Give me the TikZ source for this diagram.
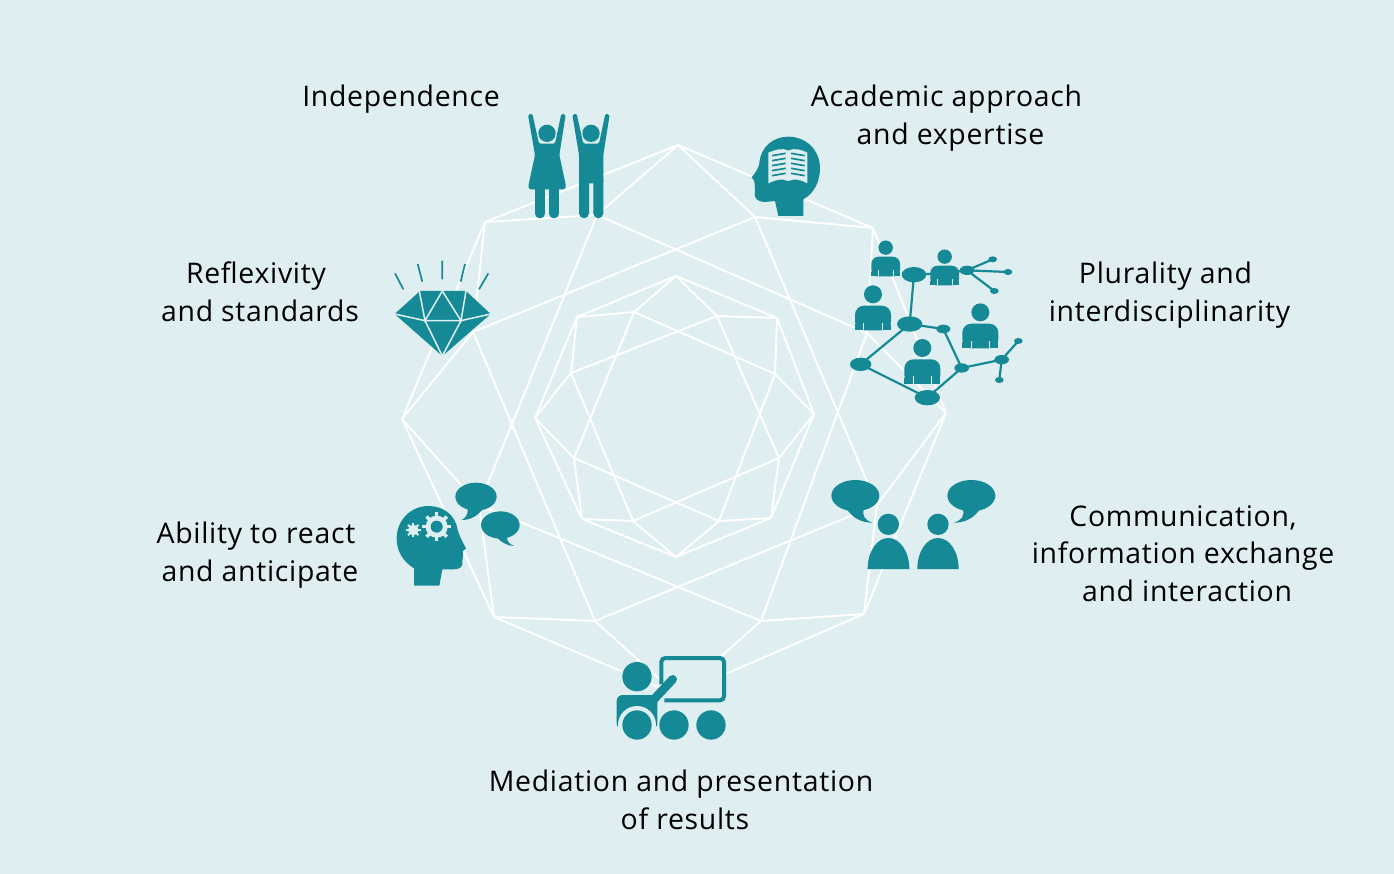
\documentclass[tikz,border=0pt]{standalone}
\usepackage{fontspec}
\setmainfont[LetterSpace=2.5]{Open Sans}
\definecolor{bgc}{HTML}{DFEEF0}
\definecolor{teal1}{HTML}{158A96}
\newcommand{\bustpic}[3]{%
  \fill[teal1] (#1,#2) circle ({27*#3});
  \fill[teal1,rounded corners={9pt*#3}] ({#1-54*#3},{#2+108*#3}) -- ({#1-54*#3},{#2+34*#3}) -- ({#1+54*#3},{#2+34*#3}) -- ({#1+54*#3},{#2+108*#3}) -- cycle;
  \fill[teal1] ({#1-54*#3},{#2+90*#3}) rectangle ({#1+54*#3},{#2+108*#3});
  \draw[bgc,line width=1pt] ({#1-28*#3},{#2+108*#3}) -- ({#1-28*#3},{#2+85*#3}) ({#1+28*#3},{#2+108*#3}) -- ({#1+28*#3},{#2+85*#3});
}
\newcommand{\trail}{\rule{8pt}{0pt}}
\tikzset{
  web/.style={white,line width=1.9pt},
  lab/.style={black,font=\fontsize{28.4}{37.7}\selectfont,align=center,inner sep=0pt},
  netedge/.style={teal1,line width=2.2pt},
}
\begin{document}
\begin{tikzpicture}[x=1pt,y=-1pt]
\useasboundingbox (0,0) rectangle (1394,874);
\fill[bgc] (0,0) rectangle (1394,874);
% outer web
\coordinate (Ot0) at (678,145);\coordinate (Ot1) at (873,228);\coordinate (Ot2) at (946,413);\coordinate (Ot3) at (864,614);
\coordinate (Ot4) at (677,695);\coordinate (Ot5) at (494,617);\coordinate (Ot6) at (402,419);\coordinate (Ot7) at (485,222);
\coordinate (Oi0) at (755,217);\coordinate (Oi1) at (867,333);\coordinate (Oi2) at (877,505);\coordinate (Oi3) at (761,621);
\coordinate (Oi4) at (595,621);\coordinate (Oi5) at (479,505);\coordinate (Oi6) at (473,332);\coordinate (Oi7) at (597,215);
% inner web
\coordinate (Nt0) at (676,276);\coordinate (Nt1) at (777,318);\coordinate (Nt2) at (814,414);\coordinate (Nt3) at (771,518);
\coordinate (Nt4) at (676,557);\coordinate (Nt5) at (582,519);\coordinate (Nt6) at (535,418);\coordinate (Nt7) at (577,317);
\coordinate (Ni0) at (717,316);\coordinate (Ni1) at (775,374);\coordinate (Ni2) at (779,458);\coordinate (Ni3) at (719,521);
\coordinate (Ni4) at (633,521);\coordinate (Ni5) at (574,458);\coordinate (Ni6) at (571,373);\coordinate (Ni7) at (634,312);
\foreach \k [evaluate=\k as \n using {int(mod(\k+1,8))}, evaluate=\k as \m using {int(mod(\k+2,8))}] in {0,...,7}{
  \draw[web] (Ot\k) -- (Ot\n) (Ot\k) -- (Oi\k) -- (Ot\n) (Oi\k) -- (Oi\m);
  \draw[web] (Nt\k) -- (Nt\n) (Nt\k) -- (Ni\k) -- (Nt\n) (Ni\k) -- (Ni\m);
}
% Independence figures
\begin{scope}[shift={(510,100)},scale=1/3]
  \fill[teal1] (111,100) circle (26);
  \fill[teal1,rounded corners=1.5pt] (54,44) -- (67,41) -- (87,131) -- (135,131) -- (154,41) -- (167,44) -- (148,165) -- (168,258) -- (165,268) -- (57,268) -- (55,258) -- (75,165) -- cycle;
  \draw[teal1,line width=9.5pt,line cap=round] (90,262) -- (90,341) (132,262) -- (132,341);
  \fill[teal1] (243,100) circle (26);
  \fill[teal1,rounded corners=1.5pt] (187,44) -- (200,41) -- (220,131) -- (267,131) -- (286,41) -- (299,44) -- (280,165) -- (280,250) -- (207,250) -- (207,165) -- cycle;
  \fill[teal1] (207,240) rectangle (237,340) (250,240) rectangle (280,340);
  \fill[teal1] (222,340) circle (15) (265,340) circle (15);
\end{scope}
% head with book
\begin{scope}[shift={(510,100)},scale=1/3]
  \fill[teal1] (880,348) -- (880,298) .. controls (912,280) and (930,245) .. (930,205)
    .. controls (930,150) and (888,110) .. (835,110)
    .. controls (790,110) and (752,140) .. (748,190)
    .. controls (746,205) and (735,220) .. (725,232)
    .. controls (728,240) and (738,242) .. (734,252)
    .. controls (732,262) and (738,268) .. (735,276)
    .. controls (730,296) and (745,306) .. (765,306)
    -- (795,303) -- (805,348) -- cycle;
  \fill[bgc] (775,158) .. controls (795,150) and (815,142) .. (835,152)
    .. controls (855,142) and (875,150) .. (892,158) -- (892,250)
    .. controls (875,240) and (855,234) .. (835,243)
    .. controls (815,234) and (795,240) .. (775,250) -- cycle;
  \foreach \d in {0,1,2,3,4}{
    \draw[teal1,line width=1.7pt] (786,{167+\d*15}) -- (827,{158+\d*15+2}) (843,{160+\d*15}) -- (884,{167+\d*15});
  }
\end{scope}
% network
\begin{scope}[shift={(840,230)},scale=1/3]
  \bustpic{137}{53}{.8}
  \bustpic{314}{80}{.8}
  \bustpic{99}{193}{1}
  \bustpic{421}{247}{1}
  \bustpic{247}{354}{1}
  \coordinate (E1) at (222,134);\coordinate (E2) at (209,282);\coordinate (E3) at (310,297);\coordinate (E4) at (62,403);
  \coordinate (E5) at (262,503);\coordinate (E6) at (365,414);\coordinate (E7) at (485,389);\coordinate (E8) at (535,333);
  \coordinate (E9) at (478,450);\coordinate (E10) at (381,121);\coordinate (E11) at (458,88);\coordinate (E12) at (504,126);
  \coordinate (E13) at (463,183);\coordinate (P2) at (314,130);
  \draw[netedge] (E1) -- (E2) (E2) -- (E3) -- (E6) (E2) -- (E4) -- (E5) -- (E6) -- (E7) -- (E8) (E7) -- (E9) (E10) -- (E11) (E10) -- (E12) (E10) -- (E13) (E1) -- (P2) -- (E10);
  \fill[teal1] (E1) ellipse (37 and 23) (E2) ellipse (38 and 23) (E3) ellipse (21 and 13) (E4) ellipse (32 and 20) (E5) ellipse (38 and 23) (E6) ellipse (22 and 14) (E7) ellipse (22 and 14) (E8) ellipse (13 and 9) (E9) ellipse (13 and 9) (E10) ellipse (22 and 14) (E11) ellipse (13 and 9) (E12) ellipse (13 and 9) (E13) ellipse (13 and 9);
\end{scope}
% diamond
\begin{scope}[shift={(380,250)},scale=1/3]
  \fill[teal1] (44,192) -- (120,123) -- (258,123) -- (332,192) -- (187,318) -- cycle;
  \draw[bgc,line width=1.5pt,line cap=round] (118,123) -- (135,212) -- (187,123) -- (243,212) -- (258,123)
    (135,212) -- (243,212) (44,192) -- (135,212) -- (187,318) -- (243,212) -- (332,192);
  \draw[teal1,line width=1.7pt] (45,70) -- (70,118) (113,42) -- (127,95) (187,32) -- (187,88) (255,42) -- (242,95) (325,70) -- (297,118);
\end{scope}
% head with gears and speech
\begin{scope}[shift={(385,470)},scale=1/3]
  \fill[teal1] (87,347) -- (87,295) .. controls (55,275) and (35,245) .. (35,205)
    .. controls (35,150) and (78,108) .. (130,108)
    .. controls (175,108) and (212,135) .. (218,180)
    .. controls (224,200) and (235,220) .. (243,235)
    .. controls (240,242) and (230,240) .. (234,250)
    .. controls (238,258) and (230,265) .. (232,272)
    .. controls (236,290) and (225,298) .. (205,298)
    -- (172,298) -- (163,347) -- cycle;
  \begin{scope}[shift={(155,170)}]
    \fill[bgc] (0,0) circle (33);
    \foreach \a in {0,45,...,315}{\draw[bgc,line width=3.5pt] (\a:25) -- (\a:43);}
    \fill[teal1] (0,0) circle (18);
  \end{scope}
  \begin{scope}[shift={(85,180)}]
    \fill[bgc] (0,0) circle (16);
    \foreach \a in {0,45,...,315}{\draw[bgc,line width=1.9pt] (\a:12) -- (\a:22);}
  \end{scope}
  \fill[teal1] (273,80) ellipse (62 and 42);
  \fill[teal1] (248,115) .. controls (250,135) and (240,145) .. (230,150) .. controls (260,150) and (280,135) .. (295,115) -- cycle;
  \fill[teal1] (346,165) ellipse (58 and 41);
  \fill[teal1] (330,195) .. controls (345,215) and (365,228) .. (387,228) .. controls (372,222) and (364,212) .. (366,198) -- cycle;
\end{scope}
% presentation
\begin{scope}[shift={(600,640)},scale=1/3]
  \fill[bgc,rounded corners=3pt] (184,54) rectangle (372,181);
  \draw[teal1,line width=4pt,rounded corners=4pt] (184,132) -- (184,54) -- (372,54) -- (372,181) -- (193,181);
  \fill[teal1] (111,110) circle (44);
  \draw[teal1,line width=8.6pt,line cap=round] (160,180) -- (218,118);
  \fill[teal1,rounded corners=6pt] (50,268) -- (50,165) -- (172,165) -- (172,268) -- cycle;
  \fill[bgc] (111,255) circle (57);
  \fill[bgc] (35,268) rectangle (180,320);
  \fill[teal1] (111,255) circle (44) (222,255) circle (44) (333,255) circle (44);
\end{scope}
% two speakers
\begin{scope}[shift={(820,470)},scale=1/3]
  \fill[teal1] (106,77) ellipse (72 and 47);
  \fill[teal1] (82,120) .. controls (100,145) and (125,158) .. (157,158) .. controls (135,150) and (127,140) .. (131,118) -- cycle;
  \fill[teal1] (454,77) ellipse (72 and 47);
  \fill[teal1] (478,120) .. controls (460,145) and (435,158) .. (402,158) .. controls (425,150) and (433,140) .. (429,118) -- cycle;
  \fill[teal1] (205,163) circle (32) (354,163) circle (32);
  \fill[teal1] (143,297) .. controls (143,245) and (170,204) .. (205,204) .. controls (240,204) and (268,245) .. (268,297) -- cycle;
  \fill[teal1] (292,297) .. controls (292,245) and (319,204) .. (354,204) .. controls (389,204) and (416,245) .. (416,297) -- cycle;
\end{scope}
% labels
\node[lab] (independence) at (401,99) {Independence};
\node[lab] (academic) at (950.5,118) {Academic approach\trail\\and expertise};
\node[lab] (plurality) at (1169.5,295) {Plurality and\trail\\interdisciplinarity};
\node[lab] (reflexivity) at (260,292) {Reflexivity\trail\\and standards};
\node[lab] (ability) at (260,555) {Ability to react\trail\\and anticipate};
\node[lab] (communication) at (1187,553.5) {Communication,\trail\\information exchange\trail\\and interaction};
\node[lab] (mediation) at (685,800) {Mediation and presentation\trail\\of results};
\end{tikzpicture}
\end{document}
